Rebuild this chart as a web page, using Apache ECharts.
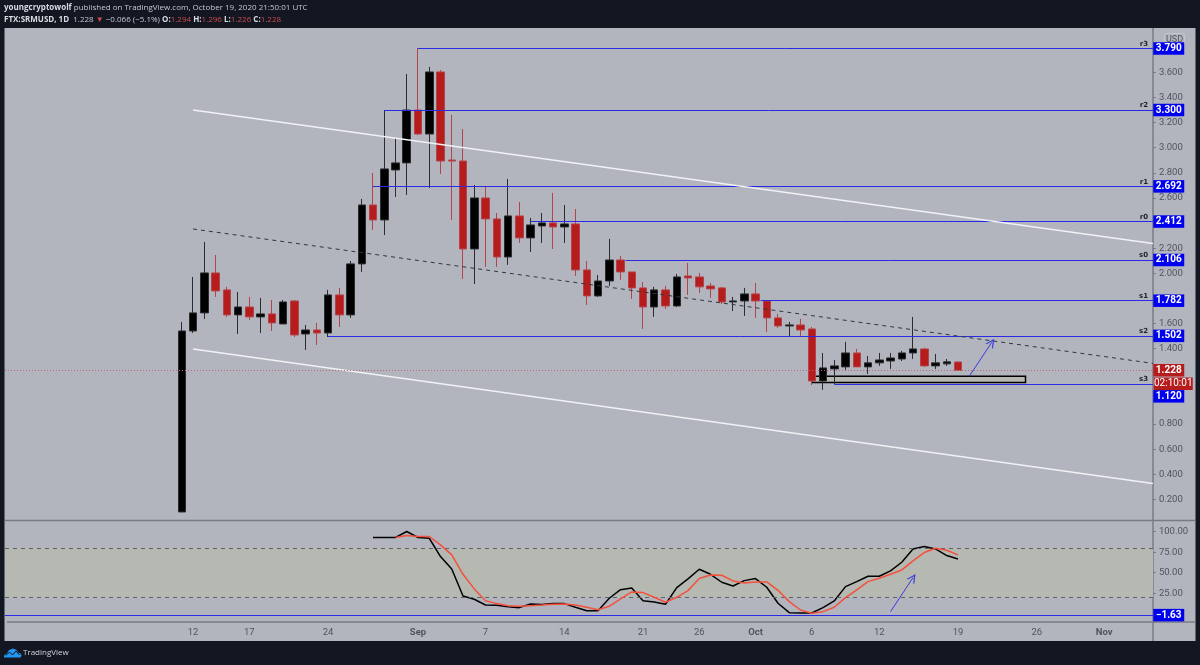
<!DOCTYPE html>
<html>
<head>
<meta charset="utf-8">
<title>SRMUSD</title>
<script src="https://cdn.jsdelivr.net/npm/echarts@6/dist/echarts.min.js"></script>
<style>
html, body { margin: 0; padding: 0; background: #131722; }
#chart { width: 1200px; height: 665px; }
</style>
</head>
<body>
<div id="chart"></div>
<script>
// one category per day, 27 Jul 2020 onwards
const dayCount = 102
const days = []
for (let i = 0; i < dayCount; i++) {
    days.push(new Date(Date.UTC(2020, 6, 27 + i)).toISOString().slice(0, 10))
}

const timeTickIndex = [16, 21, 28, 36, 42, 49, 56, 61, 66, 71, 77, 84, 91, 97]
const timeTickLabels = ['12', '17', '24', '{m|Sep}', '7', '14', '21', '26', '{m|Oct}', '6', '12', '19', '26', '{m|Nov}']

const priceTicks = [0.2, 0.4, 0.6, 0.8, 1.0, 1.4, 1.6, 2.0, 2.2, 2.6, 2.8, 3.0, 3.2, 3.4, 3.6]
const stochTicks = [25, 50, 75, 100]

// first candle is 11 Aug. rows are open, close, low, high
const firstCandle = 15
const ohlc = [
    [0.10, 1.541, 0.10, 1.613], [1.541, 1.685, 1.525, 1.971], [1.685, 2.003, 1.637, 2.250], [2.003, 1.860, 1.812, 2.146],
    [1.868, 1.669, 1.653, 1.892], [1.669, 1.732, 1.517, 1.852], [1.732, 1.653, 1.629, 1.812], [1.653, 1.677, 1.525, 1.804],
    [1.677, 1.605, 1.541, 1.788], [1.597, 1.772, 1.597, 1.788], [1.780, 1.509, 1.493, 1.788], [1.517, 1.549, 1.390, 1.589],
    [1.549, 1.525, 1.430, 1.605], [1.525, 1.828, 1.493, 1.868], [1.828, 1.669, 1.573, 1.884], [1.669, 2.075, 1.645, 2.098],
    [2.075, 2.544, 2.011, 2.592], [2.544, 2.425, 2.345, 2.799], [2.425, 2.831, 2.305, 3.300], [2.823, 2.879, 2.608, 3.078],
    [2.879, 3.300, 2.624, 3.587], [3.300, 3.109, 3.101, 3.794], [3.109, 3.603, 2.680, 3.643], [3.603, 2.894, 2.791, 3.619],
    [2.902, 2.894, 2.425, 3.261], [2.894, 2.194, 1.955, 3.149], [2.194, 2.600, 1.915, 2.703], [2.600, 2.433, 2.051, 2.687],
    [2.433, 2.130, 2.051, 2.480], [2.130, 2.457, 2.067, 2.751], [2.457, 2.282, 2.242, 2.568], [2.282, 2.385, 2.170, 2.441],
    [2.377, 2.401, 2.242, 2.480], [2.401, 2.369, 2.194, 2.640], [2.369, 2.393, 2.242, 2.544], [2.393, 2.027, 1.979, 2.512],
    [2.027, 1.820, 1.748, 2.098], [1.820, 1.939, 1.812, 1.987], [1.939, 2.106, 1.899, 2.274], [2.106, 2.011, 1.947, 2.138],
    [2.011, 1.884, 1.796, 2.011], [1.884, 1.732, 1.557, 1.931], [1.732, 1.868, 1.653, 1.892], [1.868, 1.740, 1.716, 1.899],
    [1.740, 1.971, 1.732, 1.995], [1.979, 1.963, 1.828, 2.083], [1.971, 1.892, 1.844, 2.003], [1.899, 1.876, 1.804, 1.923],
    [1.884, 1.772, 1.756, 1.892], [1.772, 1.780, 1.700, 1.812], [1.780, 1.836, 1.661, 1.884], [1.836, 1.780, 1.645, 1.923],
    [1.780, 1.645, 1.533, 1.780], [1.645, 1.581, 1.565, 1.677], [1.581, 1.589, 1.501, 1.613], [1.589, 1.549, 1.501, 1.637],
    [1.557, 1.143, 1.111, 1.573], [1.143, 1.247, 1.072, 1.366], [1.239, 1.263, 1.119, 1.310], [1.255, 1.366, 1.231, 1.454],
    [1.366, 1.255, 1.255, 1.398], [1.255, 1.287, 1.199, 1.342], [1.287, 1.310, 1.263, 1.366], [1.302, 1.326, 1.239, 1.366],
    [1.318, 1.366, 1.302, 1.382], [1.366, 1.398, 1.318, 1.653], [1.398, 1.263, 1.255, 1.406], [1.263, 1.287, 1.239, 1.358],
    [1.279, 1.295, 1.263, 1.318], [1.294, 1.228, 1.226, 1.296]
]

// pivot levels: value, name, day index where the line starts
const levelValues = [3.790, 3.300, 2.692, 2.412, 2.106, 1.782, 1.502, 1.120]
const levelNames = ['r3', 'r2', 'r1', 'r0', 's0', 's1', 's2', 's3']
const levelStarts = [36, 33, 32, 46, 54, 66, 28, 73]

// stochastic, %K starts 28 Aug and %D starts 30 Aug
const firstK = 32
const stochK = [92.9, 92.9, 92.9, 100.2, 92.9, 92.0, 69.7, 54.6, 21.7, 17.7, 10.7, 10.3, 8.7, 7.5, 12.0, 11.2, 12.4, 12.4,
    7.9, 3.8, 3.8, 18.9, 29.4, 31.5, 16.0, 14.4, 11.6, 31.9, 42.5, 54.2, 48.1, 38.4, 33.9, 40.4, 42.9, 32.3, 12.8, 1.4, 1.0,
    1.0, 7.5, 15.6, 33.1, 39.2, 45.7, 45.7, 52.2, 62.8, 79.0, 81.9, 79.0, 70.9, 66.8]
const firstD = 34
const stochD = [92.9, 95.3, 94.1, 94.1, 83.9, 71.7, 48.1, 30.3, 16.0, 12.4, 9.9, 9.1, 9.9, 10.7, 11.6, 12.0, 10.7, 7.9, 5.0,
    9.1, 18.1, 26.6, 25.8, 20.1, 14.0, 20.1, 28.2, 42.9, 47.3, 46.9, 40.0, 37.6, 38.8, 38.8, 28.6, 14.8, 4.6, 0.6, 2.6, 7.9,
    19.7, 29.0, 39.2, 43.3, 48.1, 53.4, 64.4, 74.6, 79.9, 77.4, 71.7]

const axisX = 1153
const paneLeft = 5
const lastDay = dayCount - 1
const tickText = '#50535e'
const font = 'Roboto, "Noto Sans", sans-serif'
const headFont = '"Open Sans", sans-serif'

function pad(first, values, blank) {
    return new Array(first).fill(blank).concat(values)
}

// full width horizontal line between the pane edge and the price axis
function acrossPane(value, style) {
    return [
        { xAxis: 0, yAxis: value, x: paneLeft, lineStyle: style },
        { xAxis: lastDay, yAxis: value, x: axisX }
    ]
}

function tag(value, text, bg, dy, wide) {
    return {
        coord: [lastDay, value],
        symbol: 'rect',
        symbolSize: [wide ? 39 : 31, 12.5],
        symbolOffset: [wide ? 24 : 19.5, dy],
        itemStyle: { color: bg },
        label: {
            show: true, position: 'inside', formatter: text, color: '#fff',
            fontSize: 10, fontWeight: wide ? 'normal' : 'bold', fontFamily: font
        }
    }
}

function arrow(fromDay, fromValue, toDay, toValue) {
    return [
        { xAxis: fromDay, yAxis: fromValue, symbol: 'none', lineStyle: { color: '#3a3ae0', width: 1, type: 'solid' } },
        { xAxis: toDay, yAxis: toValue, symbol: 'path://M5 0L10 11L8.6 11L5 3.4L1.4 11L0 11Z', symbolSize: 9 }
    ]
}

const levelLines = levelValues.map((v, i) => {
    const start = {
        xAxis: levelStarts[i], yAxis: v, name: levelNames[i],
        lineStyle: { color: '#2a2ae6', width: 1, type: 'solid' },
        label: {
            show: true, position: 'insideEndTop', formatter: '{b}', distance: 1, padding: [0, 4, 0, 0],
            color: '#1f2126', fontSize: 7, fontWeight: 'bold', fontFamily: '"DejaVu Sans", sans-serif'
        }
    }
    // s0 and s1 start just clear of the candle they are anchored on
    if (levelNames[i] === 's0') start.x = 625.5
    if (levelNames[i] === 's1') start.x = 760.5
    return [start, { xAxis: lastDay, yAxis: v, x: axisX }]
})

const trendLines = [
    [{ xAxis: 16, yAxis: 3.30, lineStyle: { color: '#f0f2f5', width: 1.5, type: 'solid' } }, { xAxis: lastDay, yAxis: 2.238, x: axisX }],
    [{ xAxis: 16, yAxis: 1.398, lineStyle: { color: '#f0f2f5', width: 1.5, type: 'solid' } }, { xAxis: lastDay, yAxis: 0.327, x: axisX }],
    [{ xAxis: 16, yAxis: 2.353, lineStyle: { color: '#33353c', width: 1, type: [4, 4] } }, { xAxis: lastDay, yAxis: 1.283, x: axisX }]
]

const option = {
    animation: false,
    backgroundColor: '#131722',
    textStyle: { fontFamily: font },
    graphic: {
        elements: [
            { type: 'rect', z: -10, shape: { x: 4.5, y: 28, width: 1191, height: 613 }, style: { fill: '#b2b5be' } },
            { type: 'line', z: 1, shape: { x1: paneLeft, y1: 520.5, x2: 1195, y2: 520.5 }, style: { stroke: '#787b86', lineWidth: 1.5 } },
            { type: 'line', z: 1, shape: { x1: axisX, y1: 28, x2: axisX, y2: 641 }, style: { stroke: '#787b86', lineWidth: 1.5 } },
            { type: 'line', z: 1, shape: { x1: axisX, y1: 622, x2: 1195, y2: 622 }, style: { stroke: '#787b86', lineWidth: 1.5 } },
            { type: 'rect', z: 5, shape: { x: 1164.5, y: 33.5, width: 20, height: 13, r: 2 }, style: { fill: 'none', stroke: '#c3c6ce', lineWidth: 1 } },
            { type: 'text', z: 6, x: 1174.5, y: 40, style: { text: 'USD', fill: '#50535e', font: '9px ' + font, align: 'center', verticalAlign: 'middle' } },
            {
                type: 'text', x: 4, y: 8,
                style: {
                    text: '{b|youngcryptowolf} published on TradingView.com, October 19, 2020 21:50:01 UTC',
                    fill: '#c5c8d0', font: '8px ' + headFont, verticalAlign: 'middle',
                    rich: { b: { font: 'bold 8px ' + headFont, fill: '#d8dbe2' } }
                }
            },
            {
                type: 'text', x: 4, y: 19.5,
                style: {
                    text: '{b|FTX:SRMUSD, 1D}  1.228 {r|▼} −0.066 (−5.1%) {b|O:}{r|1.294} {b|H:}{r|1.296} {b|L:}{r|1.226} {b|C:}{r|1.228}',
                    fill: '#c5c8d0', font: '8px ' + headFont, verticalAlign: 'middle',
                    rich: {
                        b: { font: 'bold 8px ' + headFont, fill: '#d8dbe2' },
                        r: { font: '8px ' + headFont, fill: '#d04a4a' }
                    }
                }
            },
            {
                type: 'polygon', x: 4, y: 647.5,
                shape: { points: [[0, 10], [0, 8], [3, 6], [5, 2.5], [9, 1], [12.5, 2.5], [14, 5], [16.5, 6], [17.5, 8], [16.5, 10]] },
                style: { fill: '#2196f3' }
            },
            {
                type: 'polyline', x: 4, y: 647.5,
                shape: { points: [[2, 8], [5.5, 4.5], [8.5, 7.5], [12, 3.5], [15.5, 7.5]] },
                style: { fill: 'none', stroke: '#131722', lineWidth: 1 }
            },
            {
                type: 'text', x: 23, y: 653,
                style: { text: 'TradingView', fill: '#d1d4dc', font: '8px ' + headFont, verticalAlign: 'middle' }
            }
        ]
    },
    grid: [
        { left: 7.375, width: 1147.5, top: 28, height: 492 },
        { left: 7.375, width: 1147.5, top: 521, height: 101 }
    ],
    xAxis: [
        { type: 'category', gridIndex: 0, data: days, show: false },
        {
            type: 'category',
            gridIndex: 1,
            data: days,
            axisLine: { onZero: false, lineStyle: { color: '#787b86', width: 1.5 } },
            axisTick: {
                alignWithLabel: true, length: 3,
                interval: i => timeTickIndex.includes(i),
                lineStyle: { color: '#787b86' }
            },
            axisLabel: {
                interval: i => timeTickIndex.includes(i),
                formatter: (v, i) => timeTickLabels[timeTickIndex.indexOf(i)],
                color: tickText, fontSize: 9.5, margin: 6, fontFamily: font,
                rich: { m: { fontWeight: 'bold', color: tickText, fontSize: 9.5, fontFamily: font } }
            }
        }
    ],
    yAxis: [
        {
            type: 'value', gridIndex: 0, position: 'right', offset: -2,
            min: 0.036, max: 3.953,
            splitLine: { show: false },
            axisLine: { show: false },
            axisTick: { show: true, length: 3, customValues: priceTicks, lineStyle: { color: '#787b86' } },
            axisLabel: {
                customValues: priceTicks, formatter: v => v.toFixed(3),
                color: tickText, fontSize: 9.5, margin: 6, fontFamily: font
            }
        },
        {
            type: 'value', gridIndex: 1, position: 'right', offset: -2,
            min: -10, max: 113,
            splitLine: { show: false },
            axisLine: { show: false },
            axisTick: { show: true, length: 3, customValues: stochTicks, lineStyle: { color: '#787b86' } },
            axisLabel: {
                customValues: stochTicks, formatter: v => v.toFixed(2),
                color: tickText, fontSize: 9.5, margin: 6, fontFamily: font
            }
        }
    ],
    series: [
        {
            name: 'SRMUSD',
            type: 'candlestick',
            xAxisIndex: 0,
            yAxisIndex: 0,
            barWidth: 8,
            data: pad(firstCandle, ohlc, ['-', '-', '-', '-']),
            itemStyle: {
                color: '#000000',
                color0: '#b71c1c',
                borderColor: '#2a2c30',
                borderColor0: '#b4444a',
                borderWidth: 1
            },
            markLine: {
                silent: true,
                symbol: 'none',
                animation: false,
                label: { show: false },
                data: [
                    ...levelLines,
                    ...trendLines,
                    acrossPane(1.228, { color: '#b9666c', width: 1, type: [1, 2] }),
                    arrow(85, 1.18, 87, 1.45)
                ]
            },
            markArea: {
                silent: true,
                data: [[
                    { xAxis: 71, yAxis: 1.18, itemStyle: { color: 'rgba(184,185,178,0.85)', borderColor: '#000', borderWidth: 1.5 } },
                    { xAxis: 90, yAxis: 1.13 }
                ]]
            },
            markPoint: {
                silent: true,
                data: [
                    ...levelValues.map(v => tag(v, v.toFixed(3), '#0000f0', v === 1.12 ? 12.5 : 0)),
                    tag(1.228, '1.228', '#b71c1c', 0),
                    tag(1.12, '02:10:01', '#b71c1c', 0, true)
                ]
            }
        },
        {
            name: '%K',
            type: 'line',
            xAxisIndex: 1,
            yAxisIndex: 1,
            symbol: 'none',
            z: 4,
            data: pad(firstK, stochK, null),
            lineStyle: { color: '#000', width: 1.5 },
            markArea: {
                silent: true,
                data: [[
                    { yAxis: 80, x: paneLeft, itemStyle: { color: '#b6b8b2' } },
                    { yAxis: 20, x: axisX }
                ]]
            },
            markLine: {
                silent: true,
                symbol: 'none',
                animation: false,
                label: { show: false },
                data: [
                    acrossPane(80, { color: '#5f6168', width: 1, type: [4, 4] }),
                    acrossPane(20, { color: '#5f6168', width: 1, type: [4, 4] }),
                    acrossPane(-1.63, { color: '#2a2ae6', width: 1, type: 'solid' }),
                    arrow(78, 2.6, 80, 44)
                ]
            },
            markPoint: {
                silent: true,
                data: [tag(-1.63, '−1.63', '#0000f0', 0)]
            }
        },
        {
            name: '%D',
            type: 'line',
            xAxisIndex: 1,
            yAxisIndex: 1,
            symbol: 'none',
            z: 5,
            data: pad(firstD, stochD, null),
            lineStyle: { color: '#f4503c', width: 1.5 }
        }
    ]
}

const chart = echarts.init(document.getElementById('chart'), null, { renderer: 'canvas' })
chart.setOption(option)
</script>
</body>
</html>
